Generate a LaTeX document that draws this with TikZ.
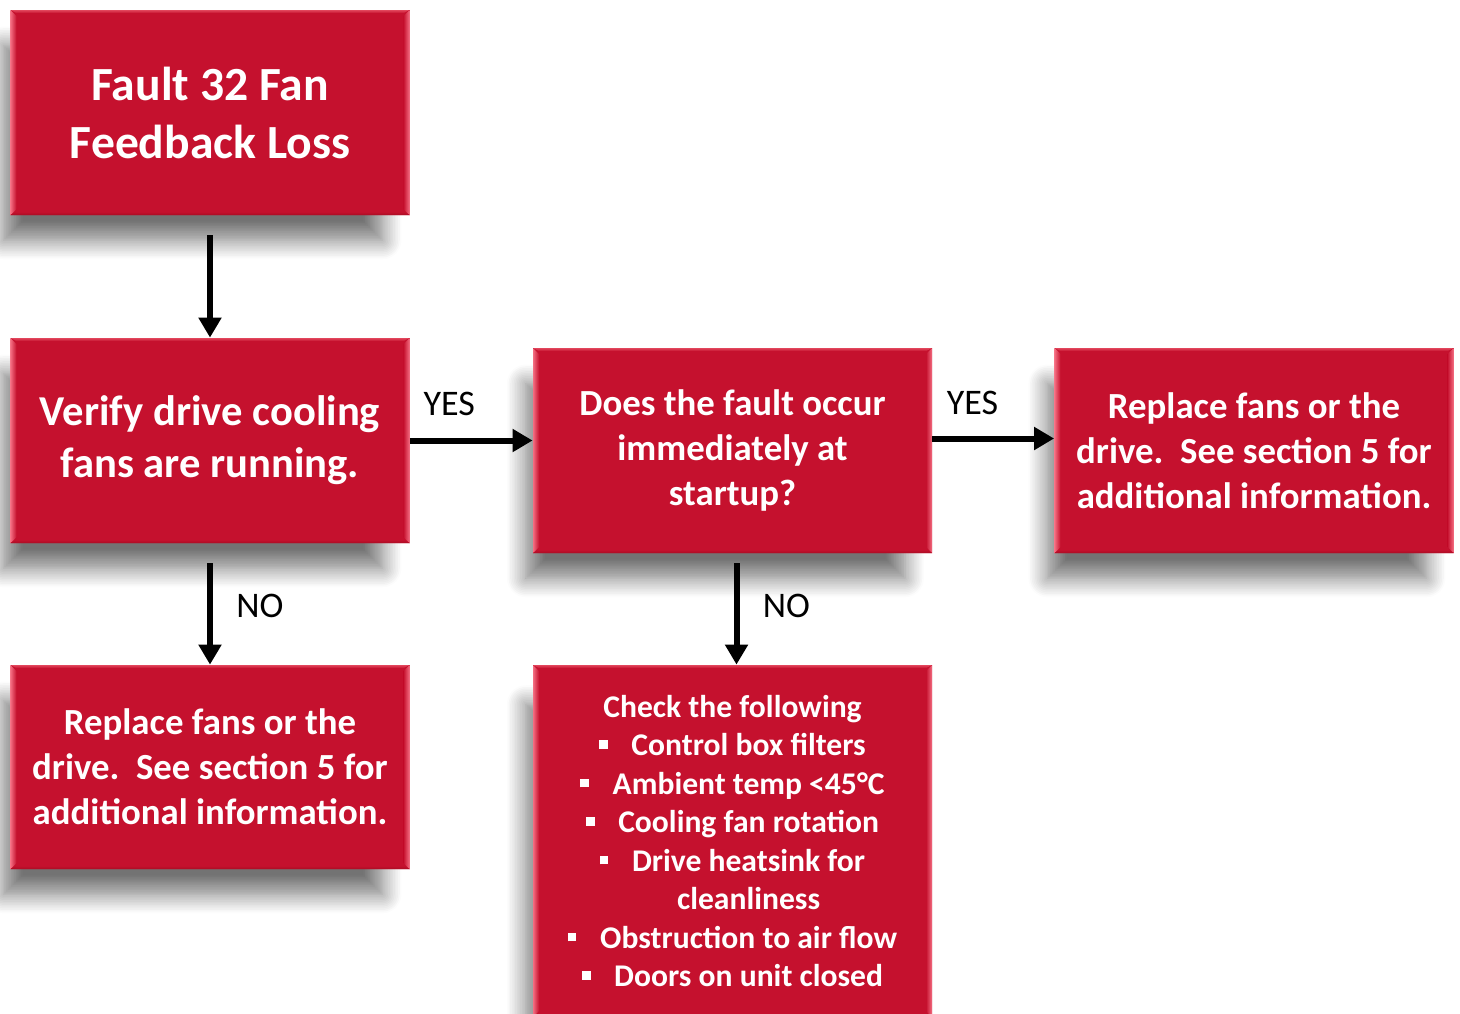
\documentclass[tikz,border=0pt]{standalone}
\usepackage{fontspec}
\setmainfont{Carlito}
\usetikzlibrary{arrows.meta,shadows.blur}

\definecolor{cardred}{RGB}{197,17,46}
\definecolor{bevlight}{RGB}{244,110,130}
\definecolor{bevtop}{RGB}{226,70,92}
\definecolor{bevdark}{RGB}{170,12,36}

\newcommand{\sqbul}{\rule[0.22em]{0.27em}{0.27em}\hspace{0.75em}}

\tikzset{
  card/.style={
    rectangle, fill=cardred, text=white, align=center, inner sep=0pt,
    minimum width=199.5pt,
    blur shadow={shadow xshift=-9pt, shadow yshift=-16pt, shadow scale=0.95,
                 shadow blur radius=10pt, shadow blur steps=12, shadow opacity=55},
    path picture={
      \def\bv{3pt}
      \coordinate (bbsw) at (path picture bounding box.south west);
      \coordinate (bbne) at (path picture bounding box.north east);
      \coordinate (bbnw) at (path picture bounding box.north west);
      \coordinate (bbse) at (path picture bounding box.south east);
      \fill[left color=bevlight, right color=cardred]
        (bbsw) -- (bbnw) -- ([xshift=\bv,yshift=-\bv]bbnw) -- ([xshift=\bv,yshift=\bv]bbsw) -- cycle;
      \fill[right color=bevlight, left color=cardred]
        (bbse) -- (bbne) -- ([xshift=-\bv,yshift=-\bv]bbne) -- ([xshift=-\bv,yshift=\bv]bbse) -- cycle;
      \fill[top color=bevtop, bottom color=cardred]
        (bbnw) -- (bbne) -- ([xshift=-\bv,yshift=-1.6pt]bbne) -- ([xshift=\bv,yshift=-1.6pt]bbnw) -- cycle;
      \fill[bottom color=bevdark, top color=cardred]
        (bbsw) -- (bbse) -- ([xshift=-\bv,yshift=1.6pt]bbse) -- ([xshift=\bv,yshift=1.6pt]bbsw) -- cycle;
    }
  },
  arr/.style={line width=3pt, -{Triangle[length=10pt,width=11pt]}},
  lbl/.style={font=\fontsize{18}{22}\selectfont, text=black, inner sep=0pt},
  big/.style={font=\bfseries\fontsize{23.8}{29}\selectfont},
  mid/.style={font=\bfseries\fontsize{21.3}{26}\selectfont},
  std/.style={font=\bfseries\fontsize{18.4}{22.5}\selectfont},
  small/.style={font=\bfseries\fontsize{15.8}{19.25}\selectfont},
}

\begin{document}
\begin{tikzpicture}[x=0.5pt, y=-0.5pt]
  \useasboundingbox (0,0) rectangle (1460,1013);
  \clip (0,0) rectangle (1460,1013);

  % process boxes
  \node[card, big, minimum height=102.5pt] (start) at (210,112.5)
    {Fault 32 Fan\\Feedback Loss};
  \node[card, mid, minimum height=102.5pt] (verify) at (210,440.5)
    {Verify drive cooling\\fans are running.};
  \node[card, std, minimum height=102.5pt] (startup) at (732.5,450.5)
    {Does the fault occur\\immediately at\\startup?};
  \node[card, std, minimum height=102.5pt] (replaceA) at (1254,450.5)
    {Replace fans or the\\drive.\ \ See section 5 for\\additional information.};
  \node[card, std, minimum height=102pt] (replaceB) at (210,767)
    {Replace fans or the\\drive.\ \ See section 5 for\\additional information.};
  \node[card, small, minimum height=176pt] (check) at (732.5,841)
    {Check the following\\
     \sqbul Control box filters\\
     \sqbul Ambient temp <45°C\\
     \sqbul Cooling fan rotation\\
     \sqbul Drive heatsink for\\
     \hspace*{1.02em}cleanliness\\
     \sqbul Obstruction to air flow\\
     \sqbul Doors on unit closed};

  % connectors
  \draw[arr] ([yshift=-10pt]start.south) -- (verify.north);
  \draw[arr] (verify.east) -- node[lbl, pos=0.32, yshift=18.5pt] {YES}
    (verify.east -| startup.west);
  \draw[arr] ([yshift=6pt]startup.east) -- node[lbl, pos=0.33, yshift=18pt] {YES}
    ([yshift=6pt]replaceA.west);
  \draw[arr] ([yshift=-10pt]verify.south) -- node[lbl, xshift=25pt, yshift=4pt] {NO}
    (replaceB.north);
  \draw[arr] ([xshift=2pt,yshift=-5pt]startup.south) -- node[lbl, xshift=25pt, yshift=4pt] {NO}
    ([xshift=2pt]check.north);
\end{tikzpicture}
\end{document}
